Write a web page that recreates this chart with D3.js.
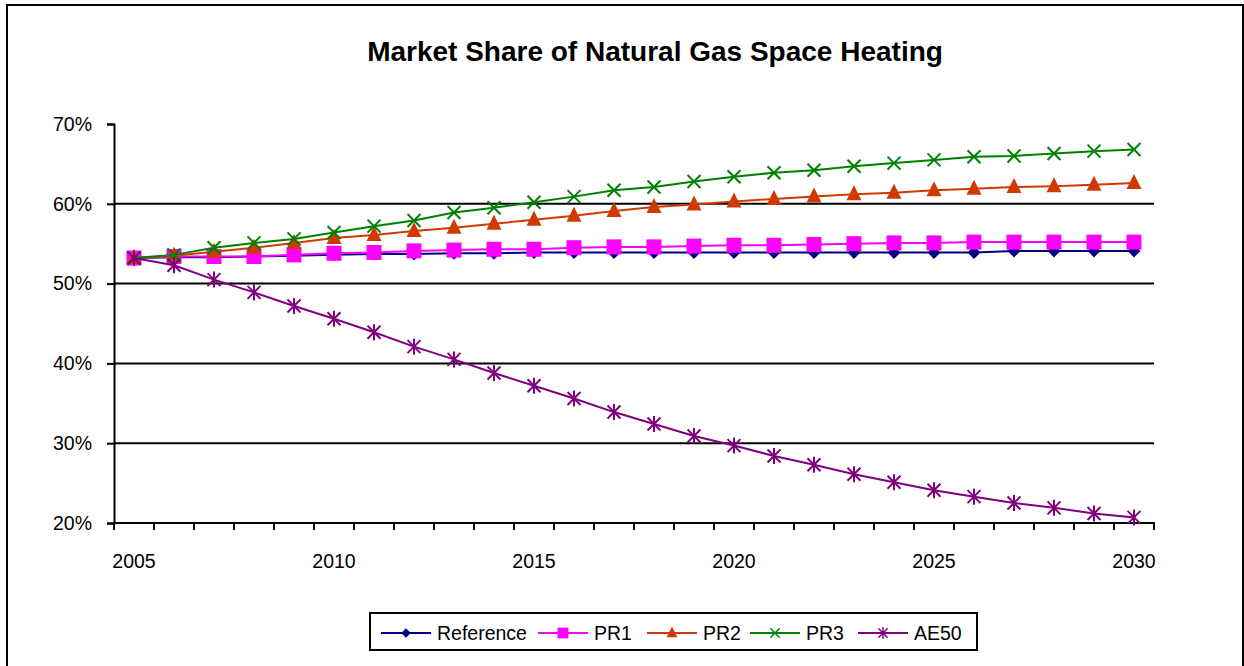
<!DOCTYPE html>
<html>
<head>
<meta charset="utf-8">
<script src="https://cdn.jsdelivr.net/npm/d3@7"></script>
<style>
  body { margin: 0; background: #fff; }
  text { font-family: "Liberation Sans", Arial, sans-serif; }
</style>
</head>
<body>
<div id="chart"></div>
<script>
// data
var years = d3.range(2005, 2031);
var seriesNames = ["Reference", "PR1", "PR2", "PR3", "AE50"];
var reference = [53.2, 53.3, 53.3, 53.4, 53.5, 53.6, 53.7, 53.7, 53.8, 53.8, 53.9, 53.9, 53.9, 53.9, 53.9, 53.9, 53.9, 53.9, 53.9, 53.9, 53.9, 53.9, 54.1, 54.1, 54.1, 54.1];
var pr1 = [53.2, 53.4, 53.4, 53.4, 53.6, 53.8, 53.9, 54.1, 54.2, 54.3, 54.3, 54.5, 54.6, 54.6, 54.7, 54.8, 54.8, 54.9, 55.0, 55.1, 55.1, 55.2, 55.2, 55.2, 55.2, 55.2];
var pr2 = [53.2, 53.5, 54.0, 54.5, 55.1, 55.7, 56.1, 56.6, 57.0, 57.5, 58.0, 58.5, 59.1, 59.6, 59.9, 60.3, 60.6, 60.9, 61.2, 61.4, 61.7, 61.9, 62.1, 62.2, 62.4, 62.6];
var pr3 = [53.2, 53.6, 54.5, 55.1, 55.6, 56.4, 57.2, 57.9, 58.9, 59.5, 60.2, 60.9, 61.7, 62.1, 62.8, 63.4, 63.9, 64.2, 64.7, 65.1, 65.5, 65.9, 66.0, 66.3, 66.6, 66.8];
var ae50 = [53.2, 52.3, 50.5, 48.9, 47.2, 45.6, 43.9, 42.1, 40.5, 38.8, 37.2, 35.6, 33.9, 32.4, 30.9, 29.7, 28.4, 27.3, 26.1, 25.1, 24.1, 23.3, 22.5, 21.9, 21.2, 20.7];
var yTicks = [20, 30, 40, 50, 60, 70];
var xLabels = [2005, 2010, 2015, 2020, 2025, 2030];

var colors = ["#000080", "#ff00ff", "#d03a00", "#008000", "#800080"];
var allValues = [reference, pr1, pr2, pr3, ae50];

var dataReady = seriesNames.map(function(name, i) {
  return {
    name: name,
    color: colors[i],
    values: years.map(function(yr, j) { return {year: yr, value: allValues[i][j]}; })
  };
});

var W = 1244, H = 666;
var svg = d3.select("#chart").append("svg")
  .attr("width", W).attr("height", H);

// outer chart border
svg.append("rect")
  .attr("x", 7).attr("y", 5).attr("width", 1236).attr("height", 670)
  .attr("fill", "#fff").attr("stroke", "#000").attr("stroke-width", 2);

// title
svg.append("text")
  .attr("x", 655).attr("y", 61)
  .attr("text-anchor", "middle")
  .style("font-size", "28px").style("font-weight", "bold")
  .text("Market Share of Natural Gas Space Heating");

// scales
var x = d3.scaleBand().domain(years).range([114, 1154]);
var y = d3.scaleLinear().domain([20, 70]).range([523, 124]);
var cx = function(yr) { return x(yr) + x.bandwidth() / 2; };

var left = x.range()[0], right = x.range()[1], top = y(70), bottom = y(20);

// plot area
svg.append("rect")
  .attr("x", left).attr("y", top)
  .attr("width", right - left).attr("height", bottom - top)
  .attr("fill", "#e8e8e8");
svg.append("path")
  .attr("d", "M" + left + "," + top + "H" + right + "V" + bottom)
  .attr("fill", "none").attr("stroke", "#808080").attr("stroke-width", 2);

// gridlines
svg.selectAll("grid")
  .data(yTicks.slice(1, -1))
  .enter().append("line")
    .attr("x1", left).attr("x2", right)
    .attr("y1", function(d) { return y(d); })
    .attr("y2", function(d) { return y(d); })
    .attr("stroke", "#000").attr("stroke-width", 2);

// y axis
var yAxis = svg.append("g")
  .attr("transform", "translate(" + left + ",0)")
  .call(d3.axisLeft(y).tickValues(yTicks).tickSize(7).tickPadding(15)
    .tickFormat(function(d) { return d + "%"; }));
yAxis.select(".domain").attr("stroke", "#000").attr("stroke-width", 2);
yAxis.selectAll(".tick line").attr("stroke", "#000").attr("stroke-width", 2);
yAxis.selectAll("text").style("font-size", "19.5px").attr("fill", "#000")
  .style("font-family", "'Liberation Sans', Arial, sans-serif");

// x axis (ticks at category edges, labels every 5 years)
var xg = svg.append("g");
xg.append("line")
  .attr("x1", left - 1).attr("x2", right + 1)
  .attr("y1", bottom).attr("y2", bottom)
  .attr("stroke", "#000").attr("stroke-width", 2);
xg.selectAll("xtick")
  .data(years.concat([2031]))
  .enter().append("line")
    .attr("x1", function(d) { return d === 2031 ? right : x(d); })
    .attr("x2", function(d) { return d === 2031 ? right : x(d); })
    .attr("y1", bottom).attr("y2", bottom + 7)
    .attr("stroke", "#000").attr("stroke-width", 2);
xg.selectAll("xlabel")
  .data(xLabels)
  .enter().append("text")
    .attr("x", function(d) { return cx(d); })
    .attr("y", 568)
    .attr("text-anchor", "middle")
    .style("font-size", "19.5px")
    .text(function(d) { return d; });

// marker shapes
function marker(sel, name, color) {
  if (name === "Reference") {
    sel.append("path").attr("d", "M0,-6.5L6.5,0L0,6.5L-6.5,0Z").attr("fill", color);
  } else if (name === "PR1") {
    sel.append("rect").attr("x", -7.5).attr("y", -7.5).attr("width", 15).attr("height", 15).attr("fill", color);
  } else if (name === "PR2") {
    sel.append("path").attr("d", "M0,-9L7.5,6L-7.5,6Z").attr("fill", color);
  } else if (name === "PR3") {
    sel.append("path").attr("d", "M-6.5,-6.5L6.5,6.5M6.5,-6.5L-6.5,6.5")
      .attr("stroke", color).attr("stroke-width", 2).attr("fill", "none");
  } else {
    sel.append("path").attr("d", "M-6.5,-6.5L6.5,6.5M6.5,-6.5L-6.5,6.5M0,-8L0,8")
      .attr("stroke", color).attr("stroke-width", 2).attr("fill", "none");
  }
}

var line = d3.line()
  .x(function(d) { return cx(d.year); })
  .y(function(d) { return y(d.value); });

dataReady.forEach(function(s) {
  svg.append("path")
    .attr("d", line(s.values))
    .attr("fill", "none")
    .attr("stroke", s.color)
    .attr("stroke-width", 2);
  svg.selectAll("pt-" + s.name)
    .data(s.values)
    .enter().append("g")
      .attr("transform", function(d) { return "translate(" + cx(d.year) + "," + y(d.value) + ")"; })
      .each(function() { marker(d3.select(this), s.name, s.color); });
});

// legend
var legend = svg.append("g");
legend.append("rect")
  .attr("x", 370).attr("y", 613).attr("width", 607).attr("height", 37)
  .attr("fill", "#fff").attr("stroke", "#000").attr("stroke-width", 2);
var legendX = [381, 538, 647, 750, 858];
dataReady.forEach(function(s, i) {
  var g = legend.append("g").attr("transform", "translate(" + legendX[i] + ",633)");
  g.append("line").attr("x1", 0).attr("x2", 50).attr("stroke", s.color).attr("stroke-width", 2);
  marker(g.append("g").attr("transform", "translate(25,0)").attr("class", "lm"), s.name, s.color);
  g.append("text").attr("x", 56).attr("y", 7).style("font-size", "19.5px").text(s.name);
});
legend.selectAll(".lm").attr("transform", function() {
  return d3.select(this).attr("transform") + " scale(0.72)";
});
</script>
</body>
</html>
